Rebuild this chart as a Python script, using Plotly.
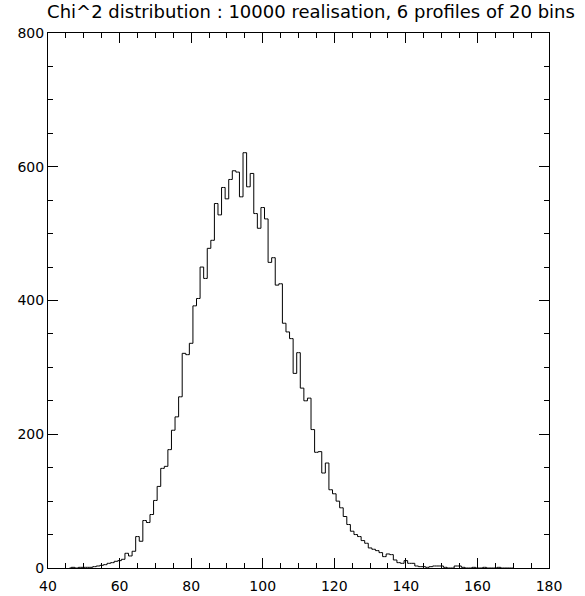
import plotly.graph_objects as go

# Histogram of chi^2 values: bin centres (unit-width bins) and counts
bin_centres = list(range(46, 171))
counts = [
    0, 1, 0, 1, 1, 1, 1, 2, 3,            # 46-54
    4, 5, 7, 8, 10, 11, 13,               # 55-61
    22, 18, 25, 47, 40, 71, 68, 80,       # 62-69
    101, 122, 149, 152, 177, 206, 226, 256,  # 70-77
    321, 319, 336, 392, 403, 450, 433, 478,  # 78-85
    490, 545, 528, 569, 552, 581, 594, 592,  # 86-93
    555, 621, 570, 590, 530, 508, 539, 522,  # 94-101
    457, 464, 423, 425, 366, 353, 343, 291,  # 102-109
    322, 269, 250, 254, 207, 173, 174, 142,  # 110-117
    157, 117, 111, 100, 90, 77, 65, 55,      # 118-125
    50, 47, 41, 37, 30, 28, 26, 23,          # 126-133
    17, 21, 20, 12, 8, 7, 11, 7,             # 134-141
    7, 3, 2, 2, 1, 2, 3, 3,                  # 142-149
    3, 1, 0, 0, 3, 3, 1, 0,                  # 150-157
    0, 1, 0, 0, 1, 0, 0, 0,                  # 158-165
    1, 0, 0, 0, 0,                           # 166-170
]

title_text = "Chi^2 distribution : 10000 realisation, 6 profiles of 20 bins"
x_ticks = [40, 60, 80, 100, 120, 140, 160, 180]
y_ticks = [0, 200, 400, 600, 800]

W, H = 585, 596
FONT = "DejaVu Sans"

fig = go.Figure()
fig.add_trace(go.Scatter(
    x=bin_centres, y=counts, mode="lines",
    line=dict(color="black", width=1, shape="hvh"),
    showlegend=False, hoverinfo="skip",
))

axis_common = dict(
    showline=True, linecolor="black", linewidth=1, mirror="allticks",
    ticks="inside", ticklen=10, tickwidth=1, tickcolor="black",
    showgrid=False, zeroline=False, automargin=False,
    tickfont=dict(family=FONT, size=14, color="black"),
)

fig.update_layout(
    width=W, height=H,
    margin=dict(l=47.6, r=W - 549.5, t=32.7, b=H - 568.3, pad=0),
    paper_bgcolor="white", plot_bgcolor="white",
    title=dict(
        text=title_text, font=dict(family=FONT, size=18, color="black"),
        x=311 / W, xanchor="center", xref="container",
        y=1 - 12 / H, yanchor="middle", yref="container",
    ),
    xaxis=dict(
        range=[40, 180], tickvals=x_ticks, ticktext=[str(v) for v in x_ticks],
        minor=dict(ticks="inside", ticklen=5, dtick=5, tick0=40,
                   tickcolor="black", tickwidth=1),
        ticklabelstandoff=5,
        **axis_common,
    ),
    yaxis=dict(
        range=[0, 800], tickvals=y_ticks, ticktext=[str(v) for v in y_ticks],
        minor=dict(ticks="inside", ticklen=5, dtick=50, tick0=0,
                   tickcolor="black", tickwidth=1),
        ticklabelstandoff=0,
        **axis_common,
    ),
)

fig.write_html("out.html")
